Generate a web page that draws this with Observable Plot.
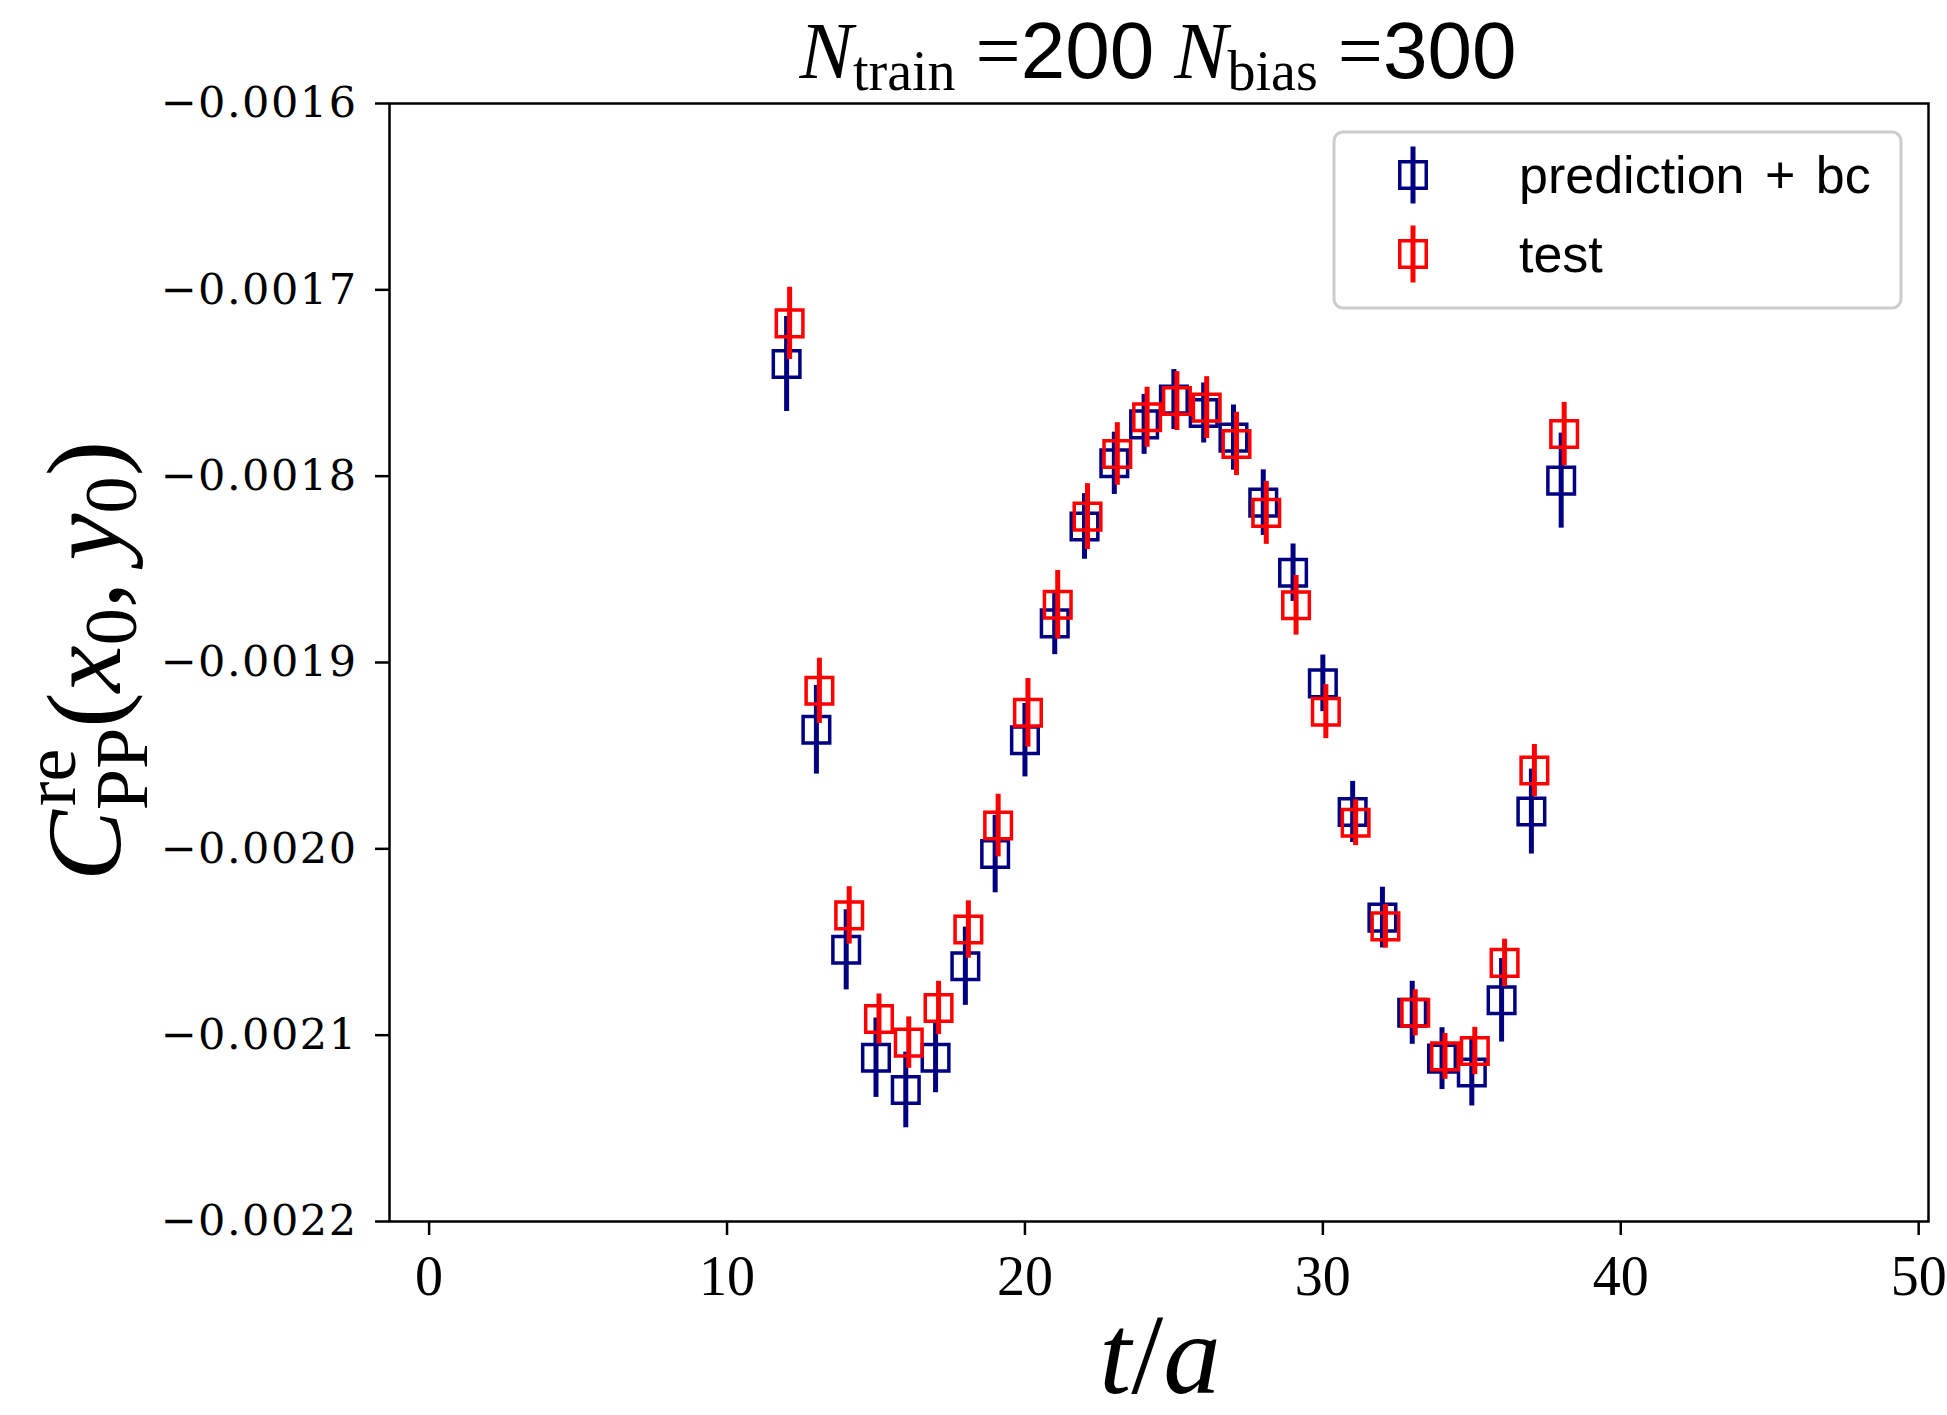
<!DOCTYPE html>
<html><head><meta charset="utf-8">
<script src="https://cdn.jsdelivr.net/npm/d3@7"></script>
<script src="https://cdn.jsdelivr.net/npm/@observablehq/plot@0.6"></script>
<style>html,body{margin:0;padding:0;background:#fff;}</style>
</head><body><div id="chart"></div>
<script>
const t = [12,13,14,15,16,17,18,19,20,21,22,23,24,25,26,27,28,29,30,31,32,33,34,35,36,37,38];
const predValue = [-0.0017398,-0.0019361,-0.0020542,-0.0021121,-0.0021294,-0.0021121,-0.0020630,-0.0020028,-0.0019417,-0.0018790,-0.0018270,-0.0017931,-0.0017722,-0.0017589,-0.0017661,-0.0017793,-0.0018142,-0.0018518,-0.0019112,-0.0019802,-0.0020369,-0.0020880,-0.0021126,-0.0021200,-0.0020813,-0.0019800,-0.0018024];
const predError = [0.0000255,0.0000238,0.0000215,0.0000213,0.0000203,0.0000188,0.0000210,0.0000208,0.0000197,0.0000168,0.0000176,0.0000167,0.0000161,0.0000161,0.0000161,0.0000175,0.0000176,0.0000154,0.0000152,0.0000164,0.0000163,0.0000169,0.0000166,0.0000180,0.0000224,0.0000228,0.0000255];
const testValue = [-0.0017180,-0.0019152,-0.0020357,-0.0020913,-0.0021040,-0.0020854,-0.0020433,-0.0019875,-0.0019270,-0.0018690,-0.0018217,-0.0017881,-0.0017684,-0.0017597,-0.0017632,-0.0017827,-0.0018197,-0.0018693,-0.0019264,-0.0019860,-0.0020416,-0.0020880,-0.0021114,-0.0021085,-0.0020612,-0.0019580,-0.0017774];
const testError = [0.0000194,0.0000175,0.0000154,0.0000134,0.0000138,0.0000143,0.0000154,0.0000168,0.0000184,0.0000184,0.0000177,0.0000168,0.0000161,0.0000158,0.0000166,0.0000170,0.0000169,0.0000160,0.0000145,0.0000123,0.0000117,0.0000124,0.0000123,0.0000127,0.0000127,0.0000140,0.0000170];
const xTicks = [0,10,20,30,40,50];
const yTicks = [-0.0016,-0.0017,-0.0018,-0.0019,-0.0020,-0.0021,-0.0022];
const seriesNames = ["prediction + bc", "test"];
const seriesColors = ["#000080", "#ff0000"];

const pred = t.map((x,i)=>({t:x, v:predValue[i], e:predError[i]}));
const test = t.map((x,i)=>({t:x, v:testValue[i], e:testError[i]}));

const serif = "'Liberation Serif', 'DejaVu Serif', serif";
const sans = "'Liberation Sans', 'DejaVu Sans', sans-serif";
const W = 1947, H = 1415;

const chart = Plot.plot({
  width: W, height: H,
  marginLeft: 389, marginRight: 19, marginTop: 103, marginBottom: 194,
  x: {domain: [-1.33, 50.33], label: null},
  y: {domain: [-0.0022, -0.0016], label: null},
  style: {background: "white", fontFamily: serif, color: "black", overflow: "visible"},
  marks: [
    Plot.ruleX(pred, {x: "t", y1: d => d.v - d.e, y2: d => d.v + d.e, stroke: seriesColors[0], strokeWidth: 5}),
    Plot.dot(pred, {x: "t", y: "v", symbol: "square", r: 15, fill: "none", stroke: seriesColors[0], strokeWidth: 3.5}),
    Plot.ruleX(test, {x: "t", y1: d => d.v - d.e, y2: d => d.v + d.e, stroke: seriesColors[1], strokeWidth: 5, dx: 3}),
    Plot.dot(test, {x: "t", y: "v", symbol: "square", r: 15, fill: "none", stroke: seriesColors[1], strokeWidth: 3.5, dx: 3}),
    Plot.frame({stroke: "black", strokeWidth: 2.5}),
    Plot.axisX({ticks: xTicks, tickSize: 14, tickPadding: 20, strokeWidth: 2.5, fontSize: 56, fontFamily: serif, label: null, tickFormat: d => String(d)}),
    Plot.axisY({ticks: yTicks, tickSize: 14, tickPadding: 18, strokeWidth: 2.5, fontSize: 43, fontFamily: "'DejaVu Serif', serif", label: null, tickFormat: d3.format(".4f")})
  ]
});
document.getElementById("chart").append(chart);
const svg = d3.select(chart);

// slightly widen y tick labels like the reference
svg.selectAll('g[aria-label="y-axis tick label"] text').style("letter-spacing", "1.5px");

function measure(str, size, family, style) {
  const tmp = svg.append("text").attr("font-size", size).attr("font-family", family).attr("font-style", style || "normal").text(str);
  const w = tmp.node().getComputedTextLength();
  tmp.remove();
  return w;
}

// Title
{
  const F = 80;
  const tt = svg.append("text").attr("x", 1158).attr("y", 78).attr("text-anchor", "middle")
    .attr("font-family", serif).attr("font-size", F).attr("fill", "black");
  const sub = 0.15 * F;
  tt.append("tspan").attr("font-style", "italic").text("N");
  tt.append("tspan").attr("font-size", 0.7 * F).attr("dy", sub).text("train");
  tt.append("tspan").attr("dy", -sub).text("\u00a0=");
  tt.append("tspan").attr("font-family", sans).text("200");
  tt.append("tspan").text("\u00a0");
  tt.append("tspan").attr("font-style", "italic").text("N");
  tt.append("tspan").attr("font-size", 0.7 * F).attr("dy", sub).text("bias");
  tt.append("tspan").attr("dy", -sub).text("\u00a0=");
  tt.append("tspan").attr("font-family", sans).text("300");
}

// x label
{
  const F = 115;
  const xl = svg.append("text").attr("x", 1160).attr("y", 1393).attr("text-anchor", "middle")
    .attr("font-family", serif).attr("font-size", F).attr("fill", "black");
  xl.append("tspan").attr("font-style", "italic").text("t");
  xl.append("tspan").text("/");
  xl.append("tspan").attr("font-style", "italic").text("a");
}

// y label
{
  const F = 106;
  const yl = svg.append("text").attr("transform", "translate(120,661) rotate(-90)").attr("text-anchor", "middle")
    .attr("font-family", serif).attr("font-size", F).attr("fill", "black");
  const wre = measure("re", 0.7 * F, serif);
  yl.append("tspan").attr("font-style", "italic").text("C");
  yl.append("tspan").attr("font-size", 0.7 * F).attr("dy", -0.42 * F).attr("dx", 4).text("re");
  yl.append("tspan").attr("font-size", 0.7 * F).attr("dx", -wre - 4).attr("dy", 0.42 * F + 0.25 * F).text("PP");
  yl.append("tspan").attr("dy", -0.25 * F).text("(");
  yl.append("tspan").attr("font-style", "italic").text("x");
  yl.append("tspan").attr("font-size", 0.7 * F).attr("dy", 0.15 * F).text("0");
  yl.append("tspan").attr("dy", -0.15 * F).text(",\u2009");
  yl.append("tspan").attr("font-style", "italic").text("y");
  yl.append("tspan").attr("font-size", 0.7 * F).attr("dy", 0.15 * F).text("0");
  yl.append("tspan").attr("dy", -0.15 * F).text(")");
}

// Legend
{
  const g = svg.append("g");
  g.append("rect").attr("x", 1334).attr("y", 132).attr("width", 567).attr("height", 176).attr("rx", 9)
    .attr("fill", "white").attr("fill-opacity", 0.8).attr("stroke", "#cccccc").attr("stroke-width", 3);
  const rows = [175, 254];
  seriesNames.forEach((name, i) => {
    const cy = rows[i], cx = 1413;
    g.append("line").attr("x1", cx).attr("x2", cx).attr("y1", cy - 28.5).attr("y2", cy + 28.5)
      .attr("stroke", seriesColors[i]).attr("stroke-width", 5);
    g.append("rect").attr("x", cx - 13.25).attr("y", cy - 13.25).attr("width", 26.5).attr("height", 26.5)
      .attr("fill", "none").attr("stroke", seriesColors[i]).attr("stroke-width", 3.5);
    g.append("text").attr("x", 1519).attr("y", cy + 18).attr("text-anchor", "start")
      .attr("font-family", sans).attr("font-size", 52).attr("word-spacing", "6px")
      .attr("fill", "black").text(name);
  });
}
</script>
</body></html>
